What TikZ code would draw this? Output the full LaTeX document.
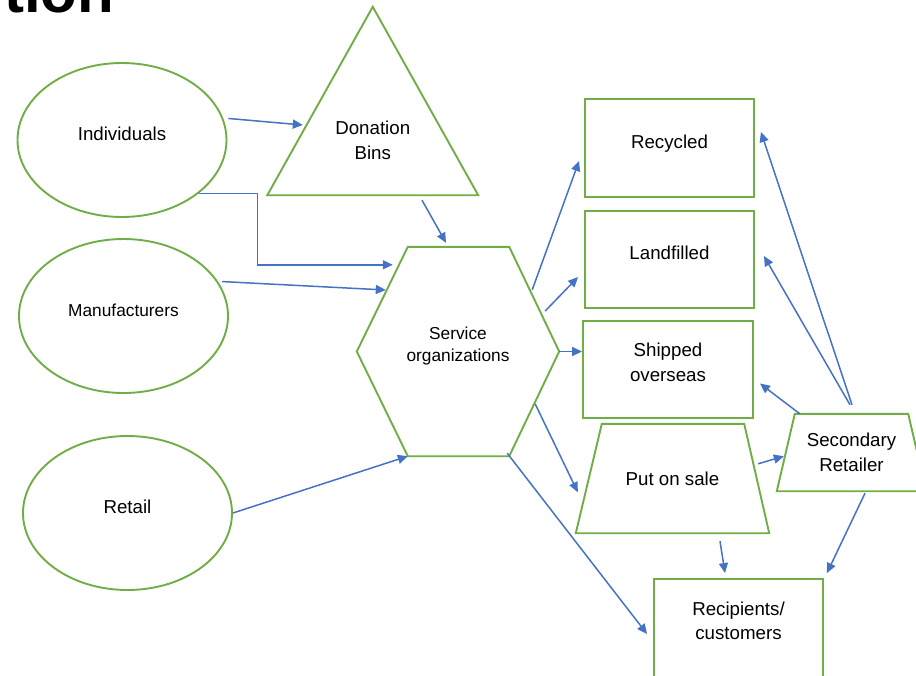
\documentclass[tikz,border=0pt]{standalone}
\usepackage{fontspec}
\setmainfont{Liberation Sans}
\usetikzlibrary{arrows.meta,shapes.geometric}
\definecolor{shapegreen}{HTML}{70AD47}
\definecolor{flowblue}{HTML}{4472C4}

\begin{document}
\begin{tikzpicture}[x=1pt,y=-1pt,
  outline/.style={draw=shapegreen,line width=1.9pt},
  txt/.style={font=\fontsize{18.7}{24.5}\selectfont,align=center,inner sep=0pt},
  smalltxt/.style={font=\fontsize{17.3}{22}\selectfont,align=center,inner sep=0pt},
  oneline/.style={text height=14pt,text depth=14pt},
  twoline/.style={text height=38pt,text depth=14.5pt},
  oval/.style={ellipse,outline,minimum width=209pt,minimum height=154pt},
  panel/.style={rectangle,outline,minimum width=169pt,minimum height=98pt},
  flow/.style={draw=flowblue,line width=1.5pt,-{Triangle[length=10pt,width=9pt]}}]
\useasboundingbox (0,0) rectangle (916,675);
\clip (0,0) rectangle (916,675);
\node[anchor=base west,inner sep=0pt,font=\fontsize{60}{60}\selectfont\bfseries] (title) at (4,12) {tion};
\node[oval,txt,oneline] (indiv) at (122,140) {Individuals};
\node[oval,smalltxt,oneline] (manuf) at (123.5,316) {Manufacturers};
\node[oval,txt,oneline] (retail) at (127.5,513) {Retail};
\node[txt,minimum width=210.5pt,minimum height=109pt] (bins) at (372.75,140.5) {Donation\\Bins};
\draw[outline] (bins.south west) -- ([yshift=79pt]bins.north) -- (bins.south east) -- cycle;
\node[smalltxt,text height=35pt,text depth=16pt,minimum width=202pt,minimum height=209pt] (svc) at (458,351.5) {Service\\organizations};
\draw[outline] (svc.west) -- ([xshift=51pt]svc.north west) -- ([xshift=-50pt]svc.north east) -- (svc.east) -- ([xshift=-50pt]svc.south east) -- ([xshift=51pt]svc.south west) -- cycle;
\node[panel,txt,oneline] (recyc) at (669.5,148) {Recycled};
\node[panel,txt,oneline,minimum height=97pt] (landf) at (669.5,259.5) {Landfilled};
\node[panel,txt,twoline,minimum width=170pt,minimum height=97pt] (ship) at (668,369.5) {Shipped\\overseas};
\node[txt,minimum width=193pt,minimum height=109pt] (sale) at (672.5,478.5) {Put on sale};
\draw[outline] ([xshift=26pt]sale.north west) -- ([xshift=-25pt]sale.north east) -- (sale.south east) -- (sale.south west) -- cycle;
\node[txt,minimum width=149pt,minimum height=77pt] (second) at (851.5,452.5) {Secondary\\Retailer};
\draw[outline] ([xshift=18pt]second.north west) -- ([xshift=-18pt]second.north east) -- (second.south east) -- (second.south west) -- cycle;
\node[panel,txt,twoline] (recip) at (738.5,628) {Recipients/\\customers};
\draw[flow] ([xshift=5pt]indiv.12) -- ([xshift=35.5pt,yshift=15.5pt]bins.west);
\draw[flow] (indiv.-35) -- ++(59,0) |- ([xshift=36pt,yshift=-18pt]svc.north west);
\draw[flow] ([xshift=4pt]manuf.20) -- ([xshift=29pt,yshift=61.5pt]svc.west);
\draw[flow] (retail.east) -- ([xshift=51pt]svc.south west);
\draw[flow] ([xshift=49.25pt,yshift=-5pt]bins.south) -- ([xshift=-12pt,yshift=4pt]svc.north);
\draw[flow] ([xshift=-27pt,yshift=-43pt]svc.north east) -- ([xshift=-5pt,yshift=-13pt]recyc.west);
\draw[flow] ([xshift=-14pt,yshift=40.5pt]svc.east) -- ([xshift=-6pt,yshift=-17.5pt]landf.west);
\draw[flow] (svc.east) -- (svc.east -| ship.west);
\draw[flow] ([xshift=-24pt,yshift=-52.5pt]svc.east) -- ([xshift=2pt,yshift=41pt]sale.south west);
\draw[flow] ([xshift=-52pt,yshift=3pt]svc.south east) -- ([xshift=-6pt,yshift=-6pt]recip.west);
\draw[flow] ([xshift=-11pt,yshift=-40pt]sale.north east) -- ([xshift=7pt,yshift=35pt]second.south west);
\draw[flow] ([xshift=47.5pt,yshift=-8pt]sale.south) -- ([xshift=-13.5pt,yshift=5pt]recip.north);
\draw[flow] ([xshift=13.5pt,yshift=-2pt]second.south) -- ([xshift=3pt,yshift=5pt]recip.north east);
\draw[flow] ([xshift=23pt]second.north west) -- ([xshift=6pt,yshift=-14pt]ship.east);
\draw[flow] ([xshift=0.5pt,yshift=9pt]second.north) -- ([xshift=6pt,yshift=16pt]recyc.east);
\draw[flow] ([xshift=-1.5pt,yshift=9pt]second.north) -- ([xshift=9pt,yshift=3.5pt]landf.east);
\end{tikzpicture}
\end{document}
